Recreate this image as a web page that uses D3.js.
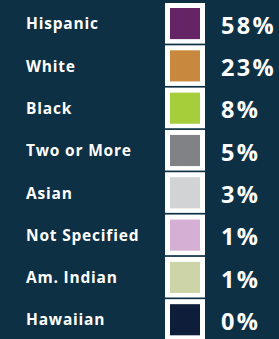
<!DOCTYPE html>
<html>
<head>
<meta charset="utf-8">
<script src="https://cdn.jsdelivr.net/npm/d3@7"></script>
<style>
  html, body { margin: 0; padding: 0; background: #0d3044; }
  svg { display: block; }
  .label { fill: #ffffff; font-family: "Open Sans", sans-serif; font-weight: 700; font-size: 15.5px; letter-spacing: 0.8px; }
  .pct { fill: #ffffff; font-family: "Open Sans", sans-serif; font-weight: 700; font-size: 23.5px; letter-spacing: 2.3px; }
</style>
</head>
<body>
<div id="chart"></div>
<script>
// Data
var groups = ["Hispanic", "White", "Black", "Two or More", "Asian", "Not Specified", "Am. Indian", "Hawaiian"];
var shares = [58, 23, 8, 5, 3, 1, 1, 0];
var swatches = ["#652466", "#c8883e", "#a6cd3a", "#808285", "#d1d3d4", "#d5b0d4", "#ccd4a8", "#0e1e3a"];

var svgWidth = 279;
var svgHeight = 339;

var svg = d3.select("#chart").append("svg")
    .attr("width", svgWidth)
    .attr("height", svgHeight);

svg.append("rect")
    .attr("width", svgWidth)
    .attr("height", svgHeight)
    .attr("fill", "#0d3044");

var rows = groups.map((g, i) => ({ name: g, value: shares[i], color: swatches[i] }));

// one band per group
var yScale = d3.scaleBand()
    .domain(groups)
    .range([3, 3 + 8 * 42.1])
    .paddingInner(0.04)
    .paddingOuter(0);

var boxX = 165, boxW = 40, inset = 5;

var rowGroup = svg.selectAll("g.row")
    .data(rows)
    .enter()
    .append("g")
    .attr("class", "row");

rowGroup.append("rect")
    .attr("x", boxX)
    .attr("y", d => yScale(d.name))
    .attr("width", boxW)
    .attr("height", yScale.bandwidth())
    .attr("fill", "#ffffff");

rowGroup.append("rect")
    .attr("x", boxX + inset)
    .attr("y", d => yScale(d.name) + inset)
    .attr("width", boxW - 2 * inset)
    .attr("height", yScale.bandwidth() - 2 * inset + 0.5)
    .attr("fill", d => d.color);

rowGroup.append("text")
    .attr("class", "label")
    .attr("x", 26)
    .attr("y", d => yScale(d.name) + yScale.bandwidth() / 2)
    .attr("dominant-baseline", "central")
    .text(d => d.name);

rowGroup.append("text")
    .attr("class", "pct")
    .attr("x", 221)
    .attr("y", d => yScale(d.name) + yScale.bandwidth() / 2 + 1.5)
    .attr("dominant-baseline", "central")
    .text(d => d.value + "%");
</script>
</body>
</html>
